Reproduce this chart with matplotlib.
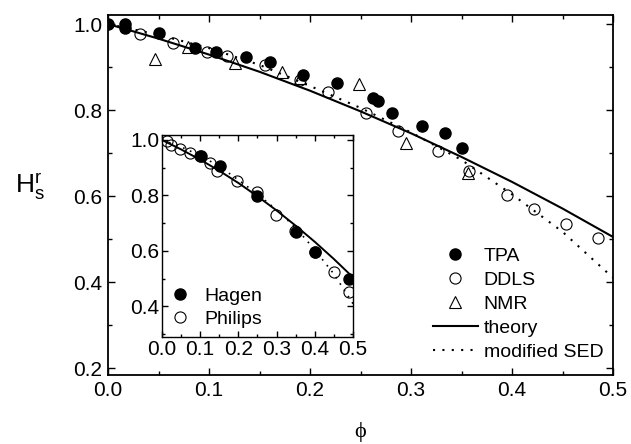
import numpy as np
import matplotlib
matplotlib.use('Agg')
import matplotlib.pyplot as plt
from matplotlib.ticker import MultipleLocator

plt.rcParams['font.family'] = ['Liberation Sans', 'DejaVu Sans']
plt.rcParams['mathtext.fontset'] = 'custom'
plt.rcParams['mathtext.rm'] = 'Liberation Sans'

# main panel data
tpa_x = [0.0, 0.017, 0.017, 0.05, 0.086, 0.107, 0.137, 0.16, 0.193, 0.227, 0.262, 0.267, 0.281, 0.311, 0.334, 0.35]
tpa_y = [1.0, 1.0, 0.99, 0.98, 0.944, 0.935, 0.924, 0.912, 0.881, 0.863, 0.828, 0.821, 0.793, 0.763, 0.747, 0.712]

ddls_x = [0.032, 0.064, 0.098, 0.118, 0.155, 0.19, 0.218, 0.255, 0.287, 0.327, 0.357, 0.395, 0.422, 0.453, 0.485]
ddls_y = [0.977, 0.956, 0.935, 0.926, 0.905, 0.87, 0.842, 0.793, 0.751, 0.705, 0.658, 0.602, 0.57, 0.535, 0.502]

nmr_x = [0.047, 0.079, 0.126, 0.172, 0.19, 0.248, 0.295, 0.356]
nmr_y = [0.919, 0.946, 0.909, 0.888, 0.875, 0.86, 0.723, 0.653]

theory_x = [0.0, 0.05, 0.1, 0.15, 0.2, 0.25, 0.3, 0.35, 0.4, 0.45, 0.5]
theory_y = [1.0, 0.966, 0.929, 0.889, 0.845, 0.797, 0.746, 0.691, 0.633, 0.571, 0.505]

sed_x = [0.0, 0.05, 0.1, 0.15, 0.2, 0.25, 0.3, 0.35, 0.4, 0.45, 0.5]
sed_y = [1.0, 0.975, 0.944, 0.905, 0.856, 0.805, 0.748, 0.684, 0.604, 0.517, 0.41]

# inset data
hagen_x = [0.102, 0.152, 0.249, 0.351, 0.401, 0.49]
hagen_y = [0.942, 0.905, 0.798, 0.668, 0.596, 0.499]

philips_x = [0.013, 0.024, 0.047, 0.073, 0.099, 0.126, 0.144, 0.196, 0.249, 0.298, 0.348, 0.401, 0.45, 0.49]
philips_y = [0.996, 0.982, 0.968, 0.953, 0.942, 0.917, 0.888, 0.852, 0.813, 0.73, 0.672, 0.596, 0.524, 0.452]

fs = 15
lfs = 14
ms = 8


def style_axes(a, xlim, ylim):
	a.set_xlim(*xlim)
	a.set_ylim(*ylim)
	a.xaxis.set_major_locator(MultipleLocator(0.1))
	a.xaxis.set_minor_locator(MultipleLocator(0.05))
	a.yaxis.set_major_locator(MultipleLocator(0.2))
	a.yaxis.set_minor_locator(MultipleLocator(0.1))
	a.tick_params(which='both', direction='in', top=True, right=True, width=1.0, labelsize=fs)
	a.tick_params(which='major', length=5)
	a.tick_params(which='minor', length=3)
	a.xaxis.set_major_formatter(plt.FormatStrFormatter('%.1f'))
	a.yaxis.set_major_formatter(plt.FormatStrFormatter('%.1f'))
	for s in a.spines.values():
		s.set_linewidth(1.3)


fig = plt.figure(figsize=(6.31, 4.44), dpi=100)
ax = fig.add_axes([0.1712, 0.1554, 0.8003, 0.8108])
style_axes(ax, (0, 0.5), (0.184, 1.021))
ax.tick_params(which='major', pad=4)

ax.plot(theory_x, theory_y, '-', color='k', lw=1.5, label='theory', zorder=2)
ax.plot(sed_x, sed_y, color='k', lw=1.5, ls=(0, (1, 3.5)), label='modified SED', zorder=2)
ax.plot(tpa_x, tpa_y, 'o', ms=ms, mfc='k', mec='k', ls='none', label='TPA', zorder=3)
ax.plot(ddls_x, ddls_y, 'o', ms=ms, mfc='none', mec='k', mew=0.8, ls='none', label='DDLS', zorder=3)
ax.plot(nmr_x, nmr_y, '^', ms=ms + 1, mfc='none', mec='k', mew=0.8, ls='none', label='NMR', zorder=3)

h, l = ax.get_legend_handles_labels()
order = [2, 3, 4, 0, 1]
ax.legend([h[i] for i in order], [l[i] for i in order], loc='lower right', bbox_to_anchor=(0.996, 0.017),
	frameon=False, fontsize=lfs, handlelength=2.3, handletextpad=0.3, labelspacing=0.33, borderaxespad=0)

fig.text(0.048, 0.579, r'$\mathregular{H_s^r}$', fontsize=19, ha='center', va='center')
fig.text(0.571, 0.027, '\u03d5', fontsize=16, ha='center', va='center', family=['Liberation Serif', 'DejaVu Serif'])

ins = fig.add_axes([0.2567, 0.241, 0.3027, 0.4550])
style_axes(ins, (0, 0.5), (0.29, 1.018))
ins.tick_params(which='major', length=4, pad=2)
ins.tick_params(which='minor', length=2)
for s in ins.spines.values():
	s.set_linewidth(1.0)

ins.plot(theory_x, theory_y, '-', color='k', lw=1.4, zorder=2)
ins.plot(sed_x, sed_y, color='k', lw=1.2, ls=(0, (1, 3.5)), zorder=2)
ins.plot(hagen_x, hagen_y, 'o', ms=ms, mfc='k', mec='k', ls='none', label='Hagen', zorder=3)
ins.plot(philips_x, philips_y, 'o', ms=ms, mfc='none', mec='k', mew=0.8, ls='none', label='Philips', zorder=3)
ins.legend(loc='lower left', frameon=False, fontsize=lfs, handlelength=1.0, handletextpad=0.75,
	labelspacing=0.3, borderaxespad=0.05)

fig.savefig('out.png', dpi=100)
